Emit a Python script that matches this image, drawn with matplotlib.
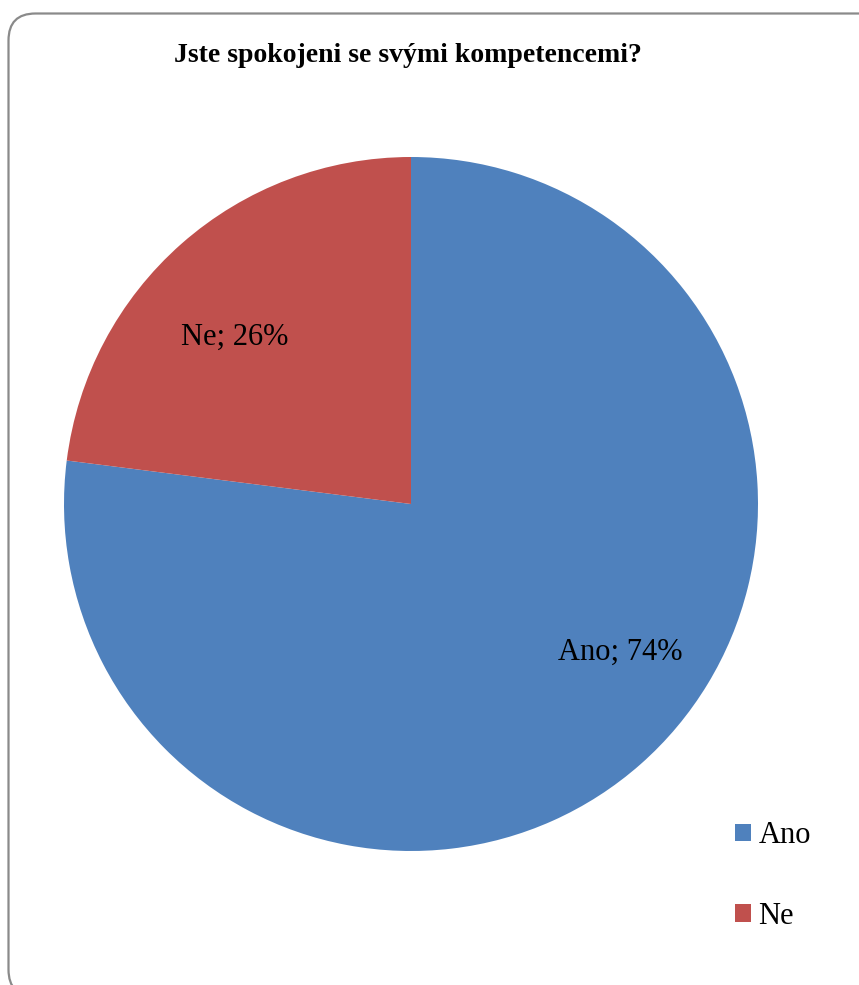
import matplotlib.pyplot as plt
from matplotlib.patches import FancyBboxPatch

# data
labels = ['Ano', 'Ne']
pct_labels = [74, 26]      # percentages printed on the chart
shares = [77, 23]          # slice sizes as drawn in the picture
colors = ['#4F81BD', '#C0504D']
title = 'Jste spokojeni se svými kompetencemi?'

plt.rcParams['font.family'] = ['Liberation Serif', 'DejaVu Serif']

W, H = 859, 985
fig = plt.figure(figsize=(W / 100, H / 100), dpi=100)

# background frame in pixel coordinates
bg = fig.add_axes([0, 0, 1, 1], zorder=0)
bg.set_xlim(0, W)
bg.set_ylim(H, 0)
bg.axis('off')
frame = FancyBboxPatch((8.5, 13.5), 900, 983, boxstyle='round,pad=0,rounding_size=27',
                       facecolor='white', edgecolor='#8a8a8a', linewidth=1.6)
bg.add_patch(frame)

# pie: center (411, 504), radius 347 px
cx, cy, r = 411, 504, 347
ax = fig.add_axes([(cx - r) / W, (H - cy - r) / H, 2 * r / W, 2 * r / H], zorder=1)
wedges, texts = ax.pie(shares, colors=colors, startangle=90, counterclock=False,
                       radius=1, labels=[f'{l}; {v}%' for l, v in zip(labels, pct_labels)],
                       labeldistance=0.7, textprops={'fontsize': 22, 'ha': 'center', 'va': 'center'})
# Excel-style label placement
texts[0].set_position((0.602, -0.427))
texts[1].set_position((-0.508, 0.48))
ax.set_xlim(-1, 1)
ax.set_ylim(-1, 1)
ax.set_aspect('auto')
ax.axis('off')

fig.text(cx / W - 0.004, 1 - 55 / H, title, ha='center', va='center',
         fontsize=20, fontweight='bold')

leg = fig.legend(wedges, labels, loc='center left', bbox_to_anchor=(735 / W, 1 - 876 / H),
                 frameon=False, fontsize=22, handlelength=0.52, handleheight=0.52,
                 handletextpad=0.25, labelspacing=1.68, borderpad=0, borderaxespad=0)

fig.savefig('out.png', dpi=100)
